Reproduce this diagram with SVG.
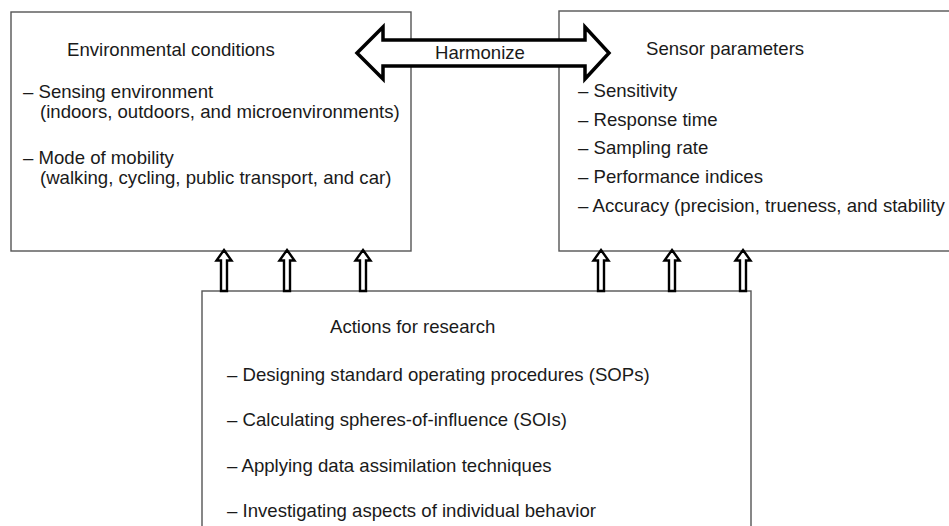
<svg xmlns="http://www.w3.org/2000/svg" width="949" height="526" viewBox="0 0 949 526">
<style>
.box{fill:#fff;stroke:#555;stroke-width:1.4}
.t{font-family:"Liberation Sans",Arial,sans-serif;font-size:18.6px;fill:#1a1a1a}
.harrow{fill:#fff;stroke:#000;stroke-width:3.5;stroke-linejoin:miter}
.uarrow{fill:#fff;stroke:#000;stroke-width:2.4;stroke-linejoin:miter}
</style>
<rect width="949" height="526" fill="#fff"/>
<g id="env">
<rect class="box" x="11" y="12" width="400" height="239"/>
<text class="t" x="67" y="56">Environmental conditions</text>
<text class="t" x="23" y="98">– Sensing environment</text>
<text class="t" x="40" y="118">(indoors, outdoors, and microenvironments)</text>
<text class="t" x="23" y="164">– Mode of mobility</text>
<text class="t" x="40" y="184">(walking, cycling, public transport, and car)</text>
</g>
<g id="sensor">
<rect class="box" x="559" y="11" width="420" height="240"/>
<text class="t" x="646" y="55">Sensor parameters</text>
<text class="t" x="578" y="97">– Sensitivity</text>
<text class="t" x="578" y="126">– Response time</text>
<text class="t" x="578" y="154">– Sampling rate</text>
<text class="t" x="578" y="183">– Performance indices</text>
<text class="t" x="578" y="212">– Accuracy (precision, trueness, and stability</text>
</g>
<g id="actions">
<rect class="box" x="202" y="291" width="549" height="260"/>
<text class="t" x="330" y="333">Actions for research</text>
<text class="t" x="227" y="381">– Designing standard operating procedures (SOPs)</text>
<text class="t" x="227" y="426">– Calculating spheres-of-influence (SOIs)</text>
<text class="t" x="227" y="472">– Applying data assimilation techniques</text>
<text class="t" x="227" y="517">– Investigating aspects of individual behavior</text>
</g>
<g id="connectors">
<g id="harmonize">
<path class="harrow" d="M357,53 L383,27 L383,40 L585,40 L585,27 L609,53 L585,79 L585,66 L383,66 L383,79 Z"/>
<text class="t" x="480" y="59" text-anchor="middle">Harmonize</text>
</g>
<path class="uarrow" d="M224,250 L231.5,260.5 L227,260.5 L227,291 L221,291 L221,260.5 L216.5,260.5 Z"/>
<path class="uarrow" d="M287,250 L294.5,260.5 L290,260.5 L290,291 L284,291 L284,260.5 L279.5,260.5 Z"/>
<path class="uarrow" d="M363,250 L370.5,260.5 L366,260.5 L366,291 L360,291 L360,260.5 L355.5,260.5 Z"/>
<path class="uarrow" d="M601,250 L608.5,260.5 L604,260.5 L604,291 L598,291 L598,260.5 L593.5,260.5 Z"/>
<path class="uarrow" d="M672,250 L679.5,260.5 L675,260.5 L675,291 L669,291 L669,260.5 L664.5,260.5 Z"/>
<path class="uarrow" d="M743,250 L750.5,260.5 L746,260.5 L746,291 L740,291 L740,260.5 L735.5,260.5 Z"/>
</g>
</svg>
